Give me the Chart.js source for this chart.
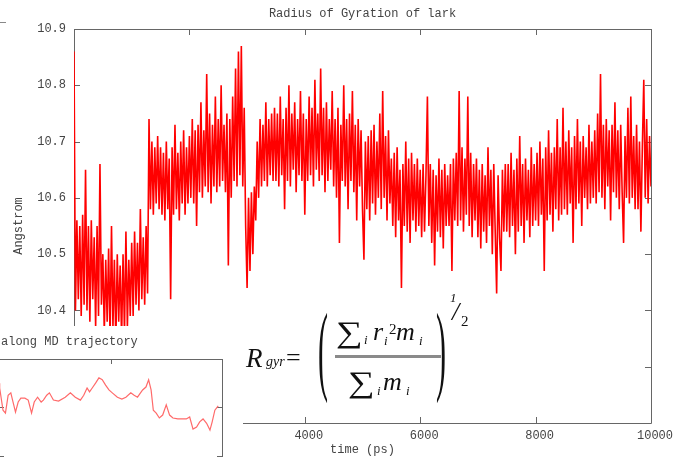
<!DOCTYPE html>
<html>
<head>
<meta charset="utf-8">
<title>Radius of Gyration of lark</title>
<script src="https://cdn.jsdelivr.net/npm/chart.js@4.4.1/dist/chart.umd.min.js"></script>
<style>
  html, body { margin: 0; padding: 0; background: #fff; overflow: hidden; }
  #wrap { position: relative; width: 675px; height: 457px; overflow: hidden; }
  #rg { position: absolute; left: 0; top: 0; }
  #inset { position: absolute; left: 0; top: 326px; width: 243px; height: 131px; background: #fff; overflow: hidden; }
  #insetChart { position: absolute; left: -2px; top: 0; }
  #crumb { position: absolute; left: 0; top: 22px; width: 6px; height: 1px; background: #888; }
</style>
</head>
<body>
<div id="wrap">
  <canvas id="rg" width="675" height="457"></canvas>
  <div id="inset"><canvas id="insetChart" width="246" height="182"></canvas></div>
  <div id="crumb"></div>
</div>
<script>
// one frame every 25 ps, 0 .. 10000 ps
const timeStepPs = 25;
const rgAngstrom = [
  10.86, 10.40, 10.56, 10.42, 10.55, 10.39, 10.57, 10.41, 10.65, 10.40, 10.55, 10.38, 10.56, 10.42, 10.53, 10.37, 10.55, 10.39, 10.66, 10.41,
  10.50, 10.36, 10.49, 10.38, 10.51, 10.35, 10.55, 10.37, 10.49, 10.34, 10.50, 10.38, 10.48, 10.35, 10.50, 10.36, 10.54, 10.37, 10.49, 10.39,
  10.52, 10.39, 10.54, 10.41, 10.52, 10.40, 10.58, 10.42, 10.53, 10.41, 10.55, 10.43, 10.74, 10.58, 10.70, 10.57, 10.69, 10.59, 10.71, 10.58,
  10.69, 10.57, 10.68, 10.56, 10.70, 10.58, 10.67, 10.42, 10.69, 10.57, 10.73, 10.58, 10.68, 10.56, 10.70, 10.59, 10.72, 10.57, 10.69, 10.59,
  10.71, 10.60, 10.74, 10.59, 10.72, 10.55, 10.73, 10.61, 10.77, 10.60, 10.72, 10.62, 10.82, 10.61, 10.75, 10.59, 10.73, 10.62, 10.78, 10.61,
  10.74, 10.62, 10.80, 10.63, 10.73, 10.61, 10.75, 10.48, 10.74, 10.60, 10.78, 10.63, 10.83, 10.62, 10.86, 10.64, 10.87, 10.62, 10.76, 10.55,
  10.44, 10.60, 10.47, 10.61, 10.50, 10.62, 10.56, 10.70, 10.60, 10.74, 10.62, 10.73, 10.63, 10.77, 10.62, 10.74, 10.64, 10.75, 10.63, 10.76,
  10.63, 10.75, 10.62, 10.78, 10.64, 10.74, 10.58, 10.76, 10.63, 10.80, 10.62, 10.75, 10.65, 10.77, 10.61, 10.74, 10.64, 10.79, 10.63, 10.75,
  10.57, 10.74, 10.63, 10.78, 10.64, 10.76, 10.62, 10.81, 10.65, 10.75, 10.63, 10.83, 10.64, 10.76, 10.61, 10.77, 10.63, 10.74, 10.65, 10.79,
  10.62, 10.74, 10.60, 10.76, 10.52, 10.73, 10.63, 10.80, 10.62, 10.74, 10.58, 10.75, 10.63, 10.79, 10.61, 10.73, 10.56, 10.74, 10.62, 10.72,
  10.58, 10.49, 10.70, 10.58, 10.71, 10.56, 10.72, 10.59, 10.73, 10.57, 10.70, 10.60, 10.75, 10.58, 10.79, 10.60, 10.71, 10.56, 10.72, 10.59,
  10.67, 10.55, 10.68, 10.53, 10.69, 10.56, 10.65, 10.44, 10.66, 10.55, 10.70, 10.54, 10.67, 10.52, 10.68, 10.56, 10.66, 10.54, 10.67, 10.55,
  10.65, 10.53, 10.66, 10.54, 10.64, 10.78, 10.55, 10.66, 10.52, 10.65, 10.48, 10.64, 10.54, 10.67, 10.53, 10.65, 10.51, 10.66, 10.55, 10.64,
  10.55, 10.66, 10.47, 10.67, 10.56, 10.68, 10.55, 10.79, 10.56, 10.69, 10.54, 10.67, 10.57, 10.78, 10.55, 10.68, 10.53, 10.66, 10.56, 10.67,
  10.53, 10.65, 10.51, 10.66, 10.54, 10.64, 10.52, 10.69, 10.55, 10.65, 10.50, 10.66, 10.54, 10.43, 10.64, 10.53, 10.47, 10.65, 10.54, 10.66,
  10.54, 10.66, 10.53, 10.68, 10.55, 10.65, 10.50, 10.67, 10.54, 10.71, 10.55, 10.66, 10.52, 10.67, 10.56, 10.65, 10.53, 10.69, 10.55, 10.66,
  10.56, 10.68, 10.55, 10.70, 10.57, 10.67, 10.47, 10.69, 10.56, 10.72, 10.57, 10.68, 10.54, 10.69, 10.58, 10.74, 10.56, 10.69, 10.57, 10.76,
  10.58, 10.70, 10.57, 10.72, 10.59, 10.69, 10.52, 10.71, 10.58, 10.74, 10.59, 10.70, 10.55, 10.71, 10.60, 10.69, 10.58, 10.73, 10.59, 10.70,
  10.60, 10.72, 10.59, 10.75, 10.61, 10.82, 10.60, 10.73, 10.58, 10.74, 10.62, 10.72, 10.56, 10.73, 10.61, 10.77, 10.60, 10.72, 10.58, 10.73,
  10.61, 10.52, 10.71, 10.60, 10.76, 10.59, 10.78, 10.60, 10.71, 10.58, 10.73, 10.58, 10.70, 10.54, 10.69, 10.81, 10.60, 10.74, 10.59, 10.71, 10.62
];
const timePs = rgAngstrom.map((_, i) => i * timeStepPs);

const xTickStep = 2000;
const yMin = 10.2, yMax = 10.9, yTickStep = 0.1;

// small inset: Rgyr along MD trajectory
const insetTimePs = [
  0, 30, 180, 290, 410, 530, 630, 740, 860, 980, 1160, 1310, 1460, 1580, 1730, 1890, 1990, 2140, 2260, 2440,
  2670, 2970, 3200, 3420, 3650, 3800, 3950, 4060, 4180, 4330, 4480, 4630, 4780, 4930, 5080, 5310, 5510, 5690, 5910, 6060,
  6210, 6440, 6590, 6710, 6820, 6920, 7050, 7190, 7340, 7500, 7650, 7800, 8020, 8400, 8550, 8700, 8860, 9000, 9150, 9310,
  9460, 9560, 9680, 9830
];
const insetRg = [
  10.750, 10.740, 10.694, 10.688, 10.725, 10.730, 10.711, 10.690, 10.711, 10.719, 10.719, 10.715, 10.688, 10.711, 10.721, 10.711, 10.715, 10.725, 10.730, 10.715,
  10.713, 10.721, 10.730, 10.721, 10.715, 10.725, 10.740, 10.732, 10.740, 10.750, 10.761, 10.757, 10.746, 10.736, 10.730, 10.721, 10.717, 10.721, 10.730, 10.725,
  10.721, 10.736, 10.742, 10.757, 10.736, 10.694, 10.688, 10.678, 10.684, 10.705, 10.684, 10.678, 10.676, 10.676, 10.680, 10.655, 10.659, 10.670, 10.676, 10.667,
  10.653, 10.670, 10.694, 10.703
];

Chart.defaults.font.family = "'Liberation Mono', 'DejaVu Sans Mono', monospace";
Chart.defaults.font.size = 12;
Chart.defaults.color = '#444';

// gnuplot style box with inward ticks on all four sides
const frameTicks = {
  id: 'frameTicks',
  beforeDatasetsDraw(chart, args, opts) {
    const { ctx, chartArea: a, scales } = chart;
    const len = opts.len;
    ctx.save();
    ctx.strokeStyle = opts.color;
    ctx.lineWidth = 1;
    ctx.beginPath();
    ctx.rect(Math.round(a.left) + 0.5, Math.round(a.top) + 0.5, Math.round(a.right - a.left), Math.round(a.bottom - a.top));
    scales.x.ticks.forEach(t => {
      const px = Math.round(scales.x.getPixelForValue(t.value)) + 0.5;
      ctx.moveTo(px, a.top); ctx.lineTo(px, a.top + len);
      ctx.moveTo(px, a.bottom); ctx.lineTo(px, a.bottom - len);
    });
    scales.y.ticks.forEach(t => {
      const py = Math.round(scales.y.getPixelForValue(t.value)) + 0.5;
      ctx.moveTo(a.left, py); ctx.lineTo(a.left + len, py);
      ctx.moveTo(a.right, py); ctx.lineTo(a.right - len, py);
    });
    ctx.stroke();
    ctx.restore();
  }
};

const formula = {
  id: 'formula',
  afterDraw(chart) {
    const ctx = chart.ctx;
    const serif = "'Liberation Serif', 'DejaVu Serif', serif";
    const put = (s, x, y, size, italic) => {
      ctx.font = (italic ? 'italic ' : '') + size + 'px ' + serif;
      ctx.fillText(s, x, y);
    };
    const paren = (s, x) => {
      ctx.save();
      ctx.translate(x, 382);
      ctx.scale(1, 3.3);
      ctx.font = '30px ' + serif;
      ctx.fillText(s, 0, 0);
      ctx.restore();
    };
    const sigma = (x, y) => {
      ctx.save();
      ctx.translate(x, y);
      ctx.scale(1.25, 1);
      ctx.font = '30px ' + serif;
      ctx.fillText('\u2211', 0, 0);
      ctx.restore();
    };
    ctx.save();
    ctx.fillStyle = '#111';
    ctx.textAlign = 'left';
    ctx.textBaseline = 'alphabetic';
    put('R', 246, 367, 27, true);
    put('gyr', 266, 366, 14, true);
    put('=', 286, 366, 26, false);
    paren('(', 318);
    paren(')', 436);
    sigma(336, 342);
    put('i', 364, 344, 13, true);
    put('r', 373, 340, 26, true);
    put('i', 384, 345, 13, true);
    put('2', 389, 334, 15, false);
    put('m', 396, 340, 26, true);
    put('i', 419, 345, 13, true);
    sigma(348, 392);
    put('i', 377, 395, 13, true);
    put('m', 383, 390, 26, true);
    put('i', 406, 395, 13, true);
    put('1', 450, 302, 13, true);
    put('/', 452, 320, 26, true);
    put('2', 461, 326, 15, false);
    ctx.fillStyle = '#8a8a8a';
    ctx.fillRect(335, 355, 106, 3);
    ctx.restore();
  }
};

const caption = {
  id: 'caption',
  afterDraw(chart, args, opts) {
    const ctx = chart.ctx;
    ctx.save();
    ctx.font = "12px 'Liberation Mono', monospace";
    ctx.fillStyle = '#444';
    ctx.textBaseline = 'middle';
    ctx.fillText(opts.text, opts.x, opts.y);
    ctx.restore();
  }
};

new Chart(document.getElementById('rg'), {
  type: 'line',
  data: {
    datasets: [{
      data: rgAngstrom.map((v, i) => ({ x: timePs[i], y: v })),
      borderColor: '#ff0000',
      borderWidth: 1.6,
      pointRadius: 0,
      tension: 0
    }]
  },
  options: {
    responsive: false,
    animation: false,
    events: [],
    layout: { autoPadding: false, padding: { top: 0, right: 15, bottom: 0, left: 0 } },
    plugins: {
      legend: { display: false },
      tooltip: { enabled: false },
      title: {
        display: true,
        fullSize: false,
        text: 'Radius of Gyration of lark',
        color: '#444',
        font: { size: 12, weight: 'normal', lineHeight: '11px' },
        padding: { top: 8, bottom: 10 }
      },
      frameTicks: { color: '#666', len: 6 }
    },
    scales: {
      x: {
        type: 'linear',
        min: 0,
        max: 10000,
        grid: { display: false, drawTicks: false },
        border: { display: false },
        ticks: { stepSize: xTickStep, padding: 6, labelOffset: 4, maxRotation: 0, autoSkip: false, callback: v => String(v) },
        title: { display: true, text: 'time (ps)', font: { size: 12, lineHeight: '11px' }, padding: { top: 0, bottom: 2 } },
        afterFit: s => { s.height = 34; }
      },
      y: {
        min: yMin,
        max: yMax,
        grid: { display: false, drawTicks: false },
        border: { display: false },
        ticks: { stepSize: yTickStep, padding: 8, callback: v => v.toFixed(1) },
        title: { display: true, text: 'Angstrom', font: { size: 12, lineHeight: '11px' }, padding: { top: 13, bottom: 0 } },
        afterFit: s => { s.width = 74; }
      }
    }
  },
  plugins: [frameTicks, formula]
});

new Chart(document.getElementById('insetChart'), {
  type: 'line',
  data: {
    datasets: [{
      data: insetRg.map((v, i) => ({ x: insetTimePs[i], y: v })),
      borderColor: '#ff6a6a',
      borderWidth: 1.2,
      pointRadius: 0,
      tension: 0
    }]
  },
  options: {
    responsive: false,
    animation: false,
    events: [],
    layout: { autoPadding: false, padding: { top: 33, right: 22, bottom: 4, left: 1 } },
    plugins: {
      legend: { display: false },
      tooltip: { enabled: false },
      frameTicks: { color: '#666', len: 5 },
      caption: { text: 'along MD trajectory', x: 3, y: 16 }
    },
    scales: {
      x: {
        type: 'linear', min: 0, max: 10000,
        grid: { display: false }, border: { display: false },
        ticks: { display: false, stepSize: 5000 },
        afterFit: s => { s.height = 0; }
      },
      y: {
        min: 10.5, max: 10.8,
        grid: { display: false }, border: { display: false },
        ticks: { display: false, stepSize: 0.1 },
        afterFit: s => { s.width = 0; }
      }
    }
  },
  plugins: [frameTicks, caption]
});
</script>
</body>
</html>
